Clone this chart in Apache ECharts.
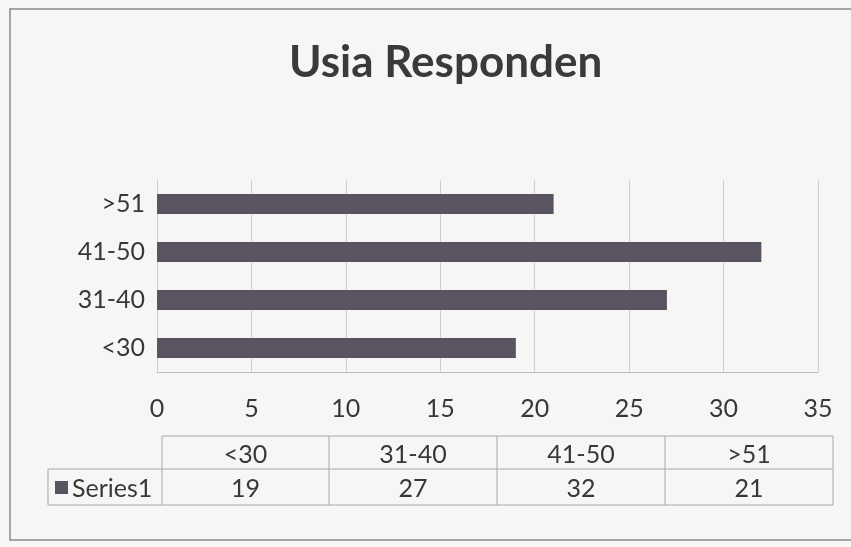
<!DOCTYPE html>
<html><head><meta charset="utf-8">
<script src="https://cdn.jsdelivr.net/npm/echarts@6/dist/echarts.min.js"></script>
<style>html,body{margin:0;padding:0;background:#f6f6f4}#c{width:851px;height:547px}</style>
</head><body><div id="c"></div>
<script>
const categories = ['<30', '31-40', '41-50', '>51'];
const values = [19, 27, 32, 21];
const seriesName = 'Series1';
const titleText = 'Usia Responden';
const xTicks = [0, 5, 10, 15, 20, 25, 30, 35];

const chart = echarts.init(document.getElementById('c'));
const FONT = 'Lato';
const TXT = '#383838';
const FS = 25;

// table layout
const colX = [162, 329, 497, 665, 833];
const rowY = [436, 469, 505];
const legendLeft = 48;
const g = [];
// frame
g.push({type:'rect', shape:{x:10,y:9,width:900,height:531}, style:{fill:'none', stroke:'#8a8a8a', lineWidth:1.5}, silent:true});
// table lines
const ls = {stroke:'#a8a8a8', lineWidth:1};
g.push({type:'line', shape:{x1:colX[0],y1:rowY[0],x2:colX[4],y2:rowY[0]}, style:ls});
g.push({type:'line', shape:{x1:legendLeft,y1:rowY[1],x2:colX[4],y2:rowY[1]}, style:ls});
g.push({type:'line', shape:{x1:legendLeft,y1:rowY[2],x2:colX[4],y2:rowY[2]}, style:ls});
g.push({type:'line', shape:{x1:legendLeft,y1:rowY[1],x2:legendLeft,y2:rowY[2]}, style:ls});
colX.forEach(x => g.push({type:'line', shape:{x1:x,y1:rowY[0],x2:x,y2:rowY[2]}, style:ls}));
categories.forEach((c,i) => {
  const cx = (colX[i]+colX[i+1])/2;
  g.push({type:'text', style:{text:c, x:cx, y:(rowY[0]+rowY[1])/2+2, align:'center', verticalAlign:'middle', fill:TXT, font:FS+'px '+FONT}});
  g.push({type:'text', style:{text:String(values[i]), x:cx, y:(rowY[1]+rowY[2])/2+2, align:'center', verticalAlign:'middle', fill:TXT, font:FS+'px '+FONT}});
});
g.push({type:'rect', shape:{x:55,y:481,width:13,height:13}, style:{fill:'#595460'}});
g.push({type:'text', style:{text:seriesName, x:72, y:(rowY[1]+rowY[2])/2+2, align:'left', verticalAlign:'middle', fill:TXT, font:FS+'px '+FONT}});

chart.setOption({
  backgroundColor:'#f6f6f4',
  animation:false,
  title:{text:titleText, left:284, top:36, textStyle:{fontFamily:FONT, fontWeight:'bold', fontSize:44, color:'#3a3a3a'}},
  grid:{left:157, right:33, top:180, bottom:175, containLabel:false},
  xAxis:{type:'value', min:0, max:35, interval:5,
    axisLine:{show:true, lineStyle:{color:'#bdbdbd'}}, axisTick:{show:false},
    splitLine:{show:true, lineStyle:{color:'#cfcfcf'}},
    axisLabel:{fontFamily:FONT, fontSize:FS, color:TXT, margin:24}},
  yAxis:{type:'category', data:categories,
    axisLine:{show:true, lineStyle:{color:'#cfcfcf'}}, axisTick:{show:false},
    axisLabel:{fontFamily:FONT, fontSize:FS, color:TXT, margin:12}},
  series:[{type:'bar', name:seriesName, data:values, barWidth:20, itemStyle:{color:'#595460'}}],
  graphic:g
});
</script></body></html>
